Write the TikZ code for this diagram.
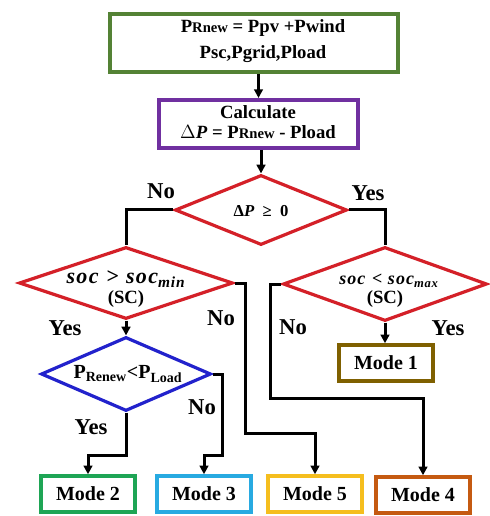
\documentclass[tikz,border=0pt]{standalone}
\usepackage{fontspec}
\setmainfont{Liberation Serif}
\newfontfamily\socfont[LetterSpace=6]{Liberation Serif}
\usetikzlibrary{arrows.meta,shapes.geometric}
\definecolor{cgreen}{RGB}{84,130,53}
\definecolor{cpurple}{RGB}{112,48,160}
\definecolor{cred}{RGB}{212,32,40}
\definecolor{cblue}{RGB}{34,34,204}
\definecolor{cmodeA}{RGB}{127,96,0}
\definecolor{cmodeB}{RGB}{30,165,85}
\definecolor{cmodeC}{RGB}{40,170,225}
\definecolor{cmodeE}{RGB}{245,190,30}
\definecolor{cmodeD}{RGB}{197,90,17}
\newcommand{\smr}[1]{{\fontsize{11}{12}\selectfont #1}}
\begin{document}
\begin{tikzpicture}[x=0.75pt,y=-0.75pt,
  conn/.style={line width=2.25pt},
  arr/.style={line width=2.25pt,-{Triangle[length=6.5pt,width=6.5pt]}},
  box/.style={draw,rectangle,inner sep=0pt,fill=white},
  dia/.style={draw,shape=diamond,inner sep=0pt,line width=2.4pt,fill=white},
  txt/.style={inner sep=0pt,align=center,font=\bfseries},
  lbl/.style={inner sep=0pt,font=\fontsize{17}{19}\selectfont\bfseries},
  modebox/.style={box,line width=2.6pt,minimum width=70.5pt,minimum height=27pt,
     font=\fontsize{15}{17}\selectfont\bfseries}]
\useasboundingbox[fill=white] (0,0) rectangle (489,516);

% boxes
\node[box,draw=cgreen,line width=3.4pt,minimum width=216pt,minimum height=43.5pt] (top) at (254,43) {};
\node[txt,font=\fontsize{14}{20}\selectfont\bfseries] (toptxt) at (263,41) {P\smr{Rnew} = Ppv +Pwind\\Psc,Pgrid,Pload};
\node[box,draw=cpurple,line width=3pt,minimum width=149.25pt,minimum height=36pt] (calc) at (258.5,124) {};
\node[txt,font=\fontsize{14}{15}\selectfont\bfseries] (calctxt) at (258,122.5) {Calculate\\$\Delta$\textit{P} = P\smr{Rnew} - Pload};

% diamonds
\node[dia,draw=cred,minimum width=129pt,minimum height=52.5pt] (d1) at (261,210) {};
\node[txt,font=\fontsize{12.5}{14}\selectfont\bfseries] (d1t) at (261,211) {Δ\textit{P}\enspace≥\enspace0};
\node[dia,draw=cred,minimum width=160.5pt,minimum height=54pt] (d2) at (126,283) {};
\node[txt,font=\fontsize{16.5}{18}\selectfont\socfont\bfseries\itshape] (d2a) at (126,279) {soc \textup{>} soc\textsubscript{min}};
\node[txt,font=\fontsize{14}{16}\selectfont\bfseries] (d2b) at (126,299) {(SC)};
\node[dia,draw=cred,minimum width=153pt,minimum height=55.5pt] (d3) at (385,284) {};
\node[txt,font=\fontsize{13.5}{15}\selectfont\socfont\bfseries\itshape] (d3a) at (389,281) {soc \textup{<} soc\textsubscript{max}};
\node[txt,font=\fontsize{14}{16}\selectfont\bfseries] (d3b) at (385,299) {(SC)};
\node[dia,draw=cblue,minimum width=127.5pt,minimum height=55.5pt] (d4) at (126,374) {};
\node[txt,font=\fontsize{15}{17}\selectfont\bfseries] (d4t) at (128,374) {P\textsubscript{Renew}<P\textsubscript{Load}};

% modes
\node[modebox,draw=cmodeA] (m1) at (386,363) {Mode 1};
\node[modebox,draw=cmodeB] (m2) at (88,494) {Mode 2};
\node[modebox,draw=cmodeC] (m3) at (204,494) {Mode 3};
\node[modebox,draw=cmodeE] (m5) at (315,494) {Mode 5};
\node[modebox,draw=cmodeD] (m4) at (423,495) {Mode 4};

% junctions
\coordinate (j4) at (270,398);
\coordinate (j5) at (245,433);
\coordinate (j2) at (126,455);
\coordinate (j3) at (222,455);

% connectors
\draw[arr] (top.south -| calc.north) -- (calc.north);
\draw[arr] (calc.south -| d1.north) -- (d1.north);
\draw[conn] (d1.west) -| (d2.north);
\draw[conn] (d1.east) -| (d3.north);
\draw[arr] (d3.south) -- (m1.north -| d3.south);
\draw[arr] (d2.south) -- (d4.north);
\draw[arr] (d3.west) -| (j4) -| (m4.north);
\draw[arr] (d2.east) -| (j5) -| (m5.north);
\draw[arr] (d4.south) -- (j2) -| (m2.north);
\draw[arr] (d4.east) -| (j3) -| (m3.north);

% labels
\node[lbl] (l1) at (161,191) {No};
\node[lbl] (l2) at (368,193) {Yes};
\node[lbl] (l3) at (221,318) {No};
\node[lbl] (l4) at (65,328) {Yes};
\node[lbl] (l5) at (293,327) {No};
\node[lbl] (l6) at (448,328) {Yes};
\node[lbl] (l7) at (91,427) {Yes};
\node[lbl] (l8) at (202,407) {No};
\end{tikzpicture}
\end{document}
